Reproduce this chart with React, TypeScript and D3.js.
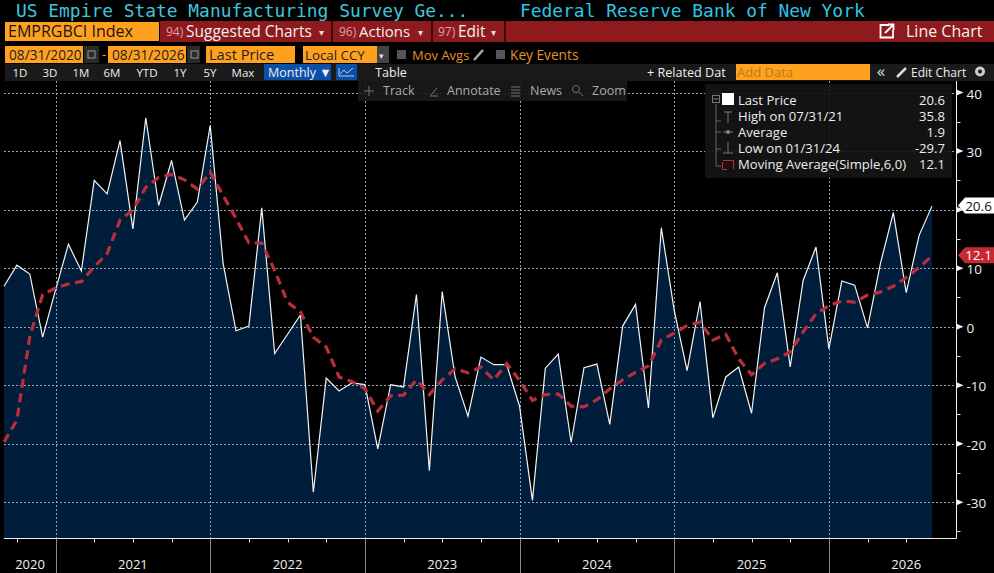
import * as d3 from "d3";
import { useRef, useEffect } from "react";

// monthly readings, 08/2020 to 08/2026
const lastPrice = [
  6.9, 10.5, 9.0, -1.8, 6.3, 14.1, 9.5, 25.0, 22.7, 31.8, 16.7, 35.7, 20.7,
  28.4, 18.2, 21.3, 34.4, 10.8, -0.7, 0.1, 20.3, -4.6, -1.3, 2.0, -28.3, -8.8,
  -11.0, -9.6, -9.9, -20.9, -9.9, -10.3, 5.5, -24.6, 6.0, -8.6, -15.3, -5.2,
  -6.5, -6.5, -13.6, -29.7, -7.1, -4.7, -19.8, -7.0, -6.4, -16.7, 0.1, 3.8,
  -13.9, 16.9, 2.8, -7.5, 4.3, -15.6, -8.6, -6.9, -14.8, 3.2, 9.2, -6.9, 7.9,
  13.6, -3.8, 7.8, 7.1, -0.2, 10.8, 19.5, 5.8, 15.6, 20.6,
];
const movingAvg = [
  -19.7, -16.0, -1.7, 5.5, 6.6, 7.3, 7.7, 10.2, 12.5, 18.2, 19.9, 23.8, 25.5,
  26.0, 25.1, 23.5, 26.4, 22.4, 18.5, 14.3, 14.3, 9.6, 4.2, 2.5, -1.8, -3.5,
  -8.6, -9.4, -10.6, -14.4, -11.8, -11.7, -9.1, -11.6, -9.1, -7.2, -7.9, -6.9,
  -9.1, -6.3, -9.2, -12.6, -11.6, -11.5, -13.6, -13.7, -12.5, -10.6, -9.1, -7.8,
  -6.7, -2.3, -1.1, 0.2, 0.8, -2.3, -1.3, -5.5, -8.2, -6.3, -5.5, -4.3, -0.9,
  2.2, 3.6, 4.4, 4.2, 5.4, 5.9, 6.9, 8.4, 10.1, 12.1,
];
const years = ["2020", "2021", "2022", "2023", "2024", "2025", "2026"];
const yearEnds = [4, 16, 28, 40, 52, 64]; // December of each year, index in the series
const quarterTicks = [1, 7, 10, 13, 19, 22, 25, 31, 34, 37, 43, 46, 49, 55, 58, 61, 67, 70];
const majorTicks = [40, 30, 20, 10, 0, -10, -20, -30];
const minorTicks = [35, 25, 15, 5, -5, -15, -25, -35];
const periods = ["1D", "3D", "1M", "6M", "YTD", "1Y", "5Y", "Max"];
const periodX = [20, 50, 81, 112, 147, 180, 210, 243];
const legendRows = ["Last Price", "High on 07/31/21", "Average", "Low on 01/31/24", "Moving Average(Simple,6,0)"];
const legendValues = ["20.6", "35.8", "1.9", "-29.7", "12.1"];

const ui = "'Open Sans', 'Liberation Sans', sans-serif";
const mono = "'DejaVu Sans Mono', monospace";
const orange = "#ffa11f";
const darkRed = "#8f1a1e";

export default function App() {
  const ref = useRef();

  useEffect(() => {
    const svg = d3.select(ref.current);
    svg.selectAll("*").remove();

    const x = d3.scaleLinear().domain([0, 72]).range([4, 932]);
    const y = d3.scaleLinear().domain([40, -30]).range([92.6, 502.2]);
    const bottom = 538.5;
    const axisX = 956.5;

    const text = (s, tx, ty, size, fill, anchor = "start", family = ui) =>
      svg
        .append("text")
        .attr("x", tx)
        .attr("y", ty)
        .attr("font-size", size)
        .attr("font-family", family)
        .attr("fill", fill)
        .attr("text-anchor", anchor)
        .text(s);
    const rect = (rx, ry, w, h, fill) =>
      svg.append("rect").attr("x", rx).attr("y", ry).attr("width", w).attr("height", h).attr("fill", fill);

    rect(0, 0, 994, 573, "#000");

    // area and grid
    const area = d3
      .area()
      .x((d, i) => x(i))
      .y0(bottom)
      .y1((d) => y(d));
    svg.append("path").attr("d", area(lastPrice)).attr("fill", "#001e3c");

    svg
      .append("g")
      .selectAll("line")
      .data(majorTicks)
      .enter()
      .append("line")
      .attr("x1", 4)
      .attr("x2", axisX)
      .attr("y1", (d) => Math.round(y(d)) + 0.5)
      .attr("y2", (d) => Math.round(y(d)) + 0.5)
      .attr("stroke", "#9aa3ad")
      .attr("stroke-dasharray", "2 2");
    svg
      .append("g")
      .selectAll("line")
      .data(yearEnds)
      .enter()
      .append("line")
      .attr("x1", (d) => Math.round(x(d)) + 0.5)
      .attr("x2", (d) => Math.round(x(d)) + 0.5)
      .attr("y1", 81)
      .attr("y2", bottom)
      .attr("stroke", "#9aa3ad")
      .attr("stroke-dasharray", "2 2");

    // series
    const line = d3
      .line()
      .x((d, i) => x(i))
      .y((d) => y(d));
    svg
      .append("path")
      .attr("d", line(lastPrice))
      .attr("fill", "none")
      .attr("stroke", "#f2f4f5")
      .attr("stroke-width", 1.2);
    svg
      .append("path")
      .attr("d", line(movingAvg))
      .attr("fill", "none")
      .attr("stroke", "#b92e3b")
      .attr("stroke-width", 3.2)
      .attr("stroke-dasharray", "9 5.5");

    // bottom axis
    svg.append("line").attr("x1", 4).attr("x2", axisX).attr("y1", bottom).attr("y2", bottom).attr("stroke", "#eee");
    svg
      .append("g")
      .selectAll("line")
      .data(quarterTicks)
      .enter()
      .append("line")
      .attr("x1", (d) => Math.round(x(d)) + 0.5)
      .attr("x2", (d) => Math.round(x(d)) + 0.5)
      .attr("y1", bottom)
      .attr("y2", bottom + 4)
      .attr("stroke", "#ddd");
    svg
      .append("g")
      .selectAll("line")
      .data(yearEnds)
      .enter()
      .append("line")
      .attr("x1", (d) => Math.round(x(d)) + 0.5)
      .attr("x2", (d) => Math.round(x(d)) + 0.5)
      .attr("y1", bottom)
      .attr("y2", 573)
      .attr("stroke", "#8a8a8a");
    const yearEdges = [x(0), ...yearEnds.map((d) => x(d)), x(76)];
    years.forEach((yr, i) => {
      const cx = i === 0 ? 30 : (yearEdges[i] + yearEdges[i + 1]) / 2;
      text(yr, cx, 569, 13, "#f0f0f0", "middle");
    });

    // right axis
    svg.append("line").attr("x1", axisX).attr("x2", axisX).attr("y1", 80).attr("y2", bottom).attr("stroke", "#eee");
    svg
      .append("g")
      .selectAll("line")
      .data(minorTicks)
      .enter()
      .append("line")
      .attr("x1", axisX)
      .attr("x2", axisX + 4)
      .attr("y1", (d) => Math.round(y(d)) + 0.5)
      .attr("y2", (d) => Math.round(y(d)) + 0.5)
      .attr("stroke", "#ddd");
    majorTicks.forEach((t) => {
      const ty = y(t);
      svg
        .append("path")
        .attr("d", `M${axisX} ${ty - 3}L${axisX + 7} ${ty}L${axisX} ${ty + 3}Z`)
        .attr("fill", "#f2f2f2");
      // the 20 label sits under the last price tag
      if (t !== 20) text(String(t), 966.5, ty + 6, 13.5, "#f0f0f0");
    });

    // value tags
    const tag = (v, fill, color) => {
      const ty = y(v) - 0.5;
      svg
        .append("path")
        .attr("d", `M958 ${ty}L965 ${ty - 8}H994V${ty + 8}H965Z`)
        .attr("fill", fill);
      text(v.toFixed(1), 978.5, ty + 5, 13.5, color, "middle");
    };
    tag(lastPrice[72], "#fff", "#111");
    tag(movingAvg[72], "#c8282f", "#fff");

    // legend
    svg.append("rect").attr("x", 705).attr("y", 84).attr("width", 247).attr("height", 94).attr("rx", 3).attr("fill", "#151515").attr("fill-opacity", 0.9);
    legendRows.forEach((s, i) => {
      const ty = 105 + i * 16;
      text(s, 738, ty, 13.1, "#eee");
      text(legendValues[i], 945, ty, 13.1, "#eee", "end");
    });
    svg.append("path").attr("d", "M716 104V166H721M716 121H721M716 132H721M716 149H721").attr("fill", "none").attr("stroke", "#666");
    svg.append("rect").attr("x", 712.5).attr("y", 95.5).attr("width", 7).attr("height", 7).attr("fill", "#111").attr("stroke", "#777");
    svg.append("path").attr("d", "M713.5 99H718.5").attr("stroke", "#888");
    rect(722, 93, 12, 12, "#fff");
    svg.append("path").attr("d", "M724 112H732M728 112V123").attr("stroke", "#777");
    svg.append("path").attr("d", "M723 132H733").attr("stroke", "#777");
    svg.append("circle").attr("cx", 728).attr("cy", 132).attr("r", 2).attr("fill", "#888");
    svg.append("path").attr("d", "M728 142V153M723 153H733").attr("stroke", "#777");
    svg.append("path").attr("d", "M723 160.5H733.5V169M722.5 162V169.5H727").attr("fill", "none").attr("stroke", "#c8282f");

    // title
    text("US Empire State Manufacturing Survey Ge...", 16, 17, 17.9, "#41c6d8", "start", mono);
    text("Federal Reserve Bank of New York", 520, 16.5, 17.9, "#2fc4e4", "start", mono);

    // red bar
    rect(0, 21, 994, 21, "#000");
    rect(160, 21, 834, 21, darkRed);
    rect(5, 22, 154, 19, orange);
    text("EMPRGBCI Index", 8, 37, 16, "#151515");
    [331, 431, 504].forEach((bx) => rect(bx, 21, 2, 21, "#3a0a0c"));
    text("94)", 166, 36, 12, "#d9a3a3");
    text("Suggested Charts", 186, 36.5, 15.5, "#f0f0f0");
    text("\u25BE", 319, 36, 10, "#ddd");
    text("96)", 339, 36, 12, "#d9a3a3");
    text("Actions", 359, 36.5, 15, "#f0f0f0");
    text("\u25BE", 418, 36, 10, "#ddd");
    text("97)", 438, 36, 12, "#d9a3a3");
    text("Edit", 458, 36.5, 15.5, "#f0f0f0");
    text("\u25BE", 491, 36, 10, "#ddd");
    svg.append("path").attr("d", "M889 25H880.5V37.5H893V30M885 33L893 25M888 24.5H893.5V30").attr("fill", "none").attr("stroke", "#fff").attr("stroke-width", 1.8);
    text("Line Chart", 906, 36.5, 16, "#f0f0f0");

    // date row
    rect(5, 46, 78, 17, orange);
    text("08/31/2020", 9, 60, 13.7, "#222");
    rect(84, 46, 15, 17, "#2a2a2a");
    text("-", 102, 59, 13, orange);
    rect(108, 46, 78, 17, orange);
    text("08/31/2026", 112, 60, 13.7, "#222");
    rect(187, 46, 13, 17, "#2a2a2a");
    rect(206, 46, 89, 17, orange);
    text("Last Price", 209, 60, 14.6, "#222");
    rect(303, 46, 74, 17, orange);
    text("Local CCY", 305, 60, 13.3, "#222");
    rect(377, 46, 12, 17, "#444");
    [[88, 51], [191, 51]].forEach(([ix, iy]) =>
      svg.append("rect").attr("x", ix).attr("y", iy).attr("width", 7).attr("height", 7).attr("fill", "none").attr("stroke", "#999")
    );
    text("\u25BE", 379, 59, 9, "#ddd");
    rect(397, 50, 9, 9, "#555");
    text("Mov Avgs", 412, 60, 13, "#e8912a");
    svg.append("path").attr("d", "M474 60L483 50").attr("stroke", "#aaa").attr("stroke-width", 2.5);
    rect(496, 50, 9, 9, "#555");
    text("Key Events", 510, 60, 13.7, "#e8912a");

    // period row
    rect(5, 64, 989, 17, "#1a1a1a");
    periods.forEach((p, i) => text(p, periodX[i], 77, 11.5, "#eee", "middle"));
    rect(264, 64, 67, 16, "#0b4fa8");
    text("Monthly \u25BC", 268, 76.5, 12.5, "#eee");
    rect(336, 64, 21, 16, "#0b4fa8");
    svg.append("path").attr("d", "M339 68V76H354M340 74L344 70L347 73L353 68").attr("fill", "none").attr("stroke", "#bcd");
    text("Table", 391, 77, 12.5, "#eee", "middle");
    text("+ Related Dat", 647, 76.5, 12.6, "#eee");
    rect(736, 64, 134, 16, orange);
    text("Add Data", 737, 76.5, 13, "#b5791d");
    text("\u00AB", 881, 77, 17, "#ddd", "middle");
    text("Edit Chart", 911, 76.5, 12, "#eee");
    svg.append("path").attr("d", "M897 77L906 68").attr("stroke", "#ddd").attr("stroke-width", 2.5);
    svg.append("circle").attr("cx", 980).attr("cy", 71.5).attr("r", 3.5).attr("fill", "none").attr("stroke", "#ccc").attr("stroke-width", 3);

    // chart tools
    rect(358, 81, 269, 20, "#1a1a1a").attr("fill-opacity", 0.9);
    [["Track", 383], ["Annotate", 447], ["News", 530], ["Zoom", 592]].forEach(([s, tx]) => text(s, tx, 95, 12.5, "#aaa"));
    svg.append("path").attr("d", "M364 91H374M369 86V96").attr("stroke", "#777");
    svg.append("path").attr("d", "M430 96H438M431 95L437 88").attr("stroke", "#777");
    svg.append("path").attr("d", "M511 87H520M511 90H520M511 93H520M511 96H520").attr("stroke", "#777");
    svg.append("circle").attr("cx", 576).attr("cy", 89).attr("r", 3.5).attr("fill", "none").attr("stroke", "#777");
    svg.append("path").attr("d", "M579 92L583 96").attr("stroke", "#777");
  }, []);

  return (
    <div style={{ position: "absolute", left: 0, top: 0, lineHeight: 0 }}>
      <svg ref={ref} width={994} height={573}></svg>
    </div>
  );
}
